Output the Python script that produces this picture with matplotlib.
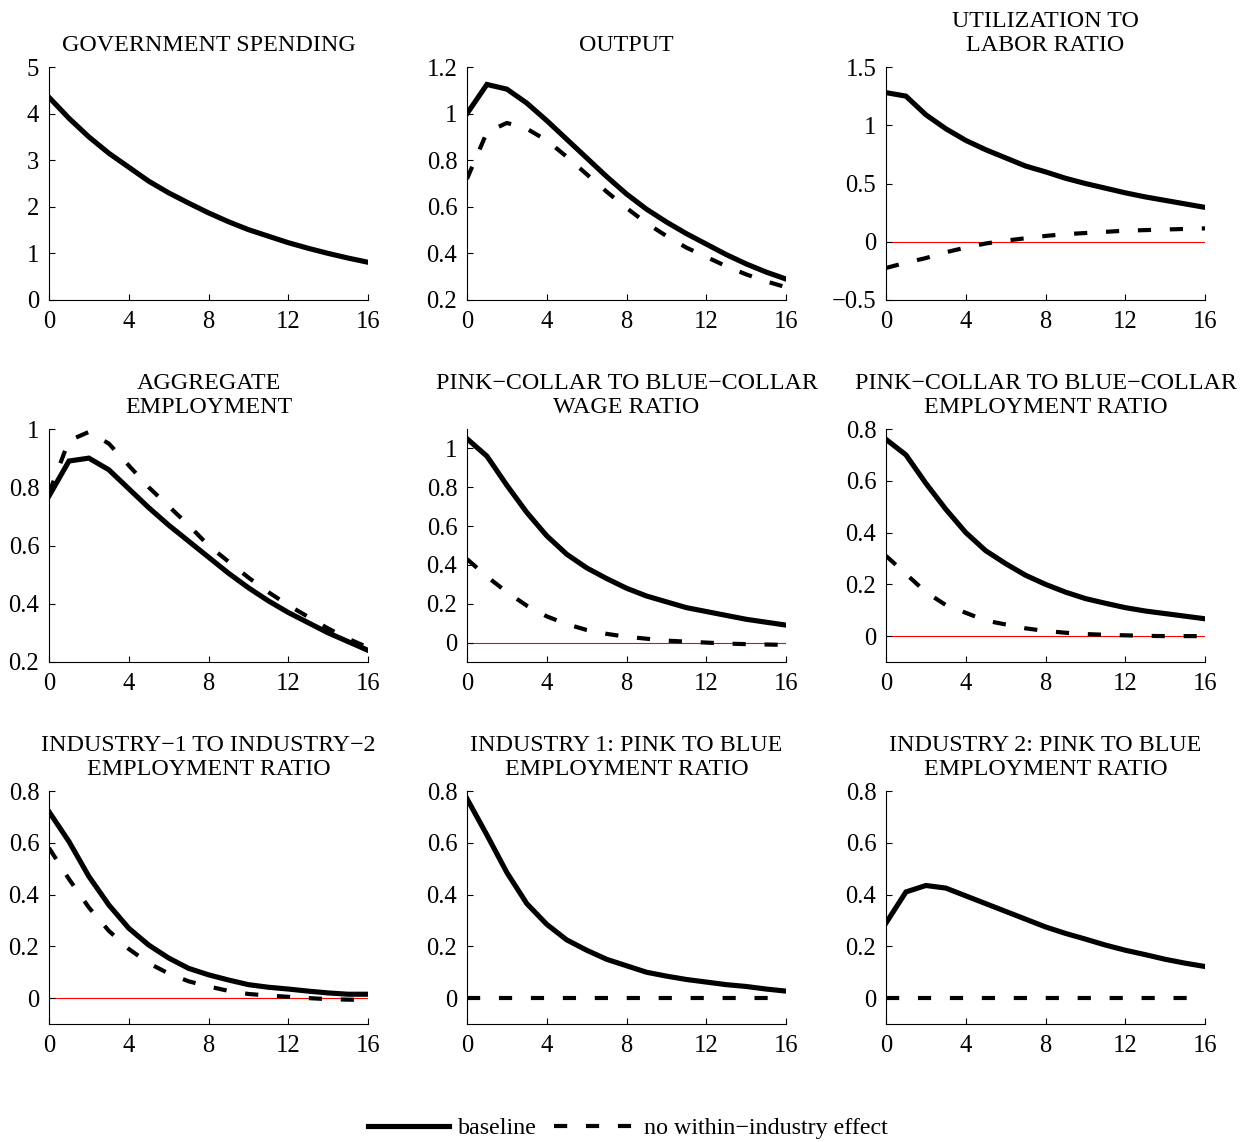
import numpy as np
import matplotlib
matplotlib.use("Agg")
import matplotlib.pyplot as plt
from matplotlib.ticker import FuncFormatter

plt.rcParams['font.family'] = ['Liberation Serif', 'DejaVu Serif']
plt.rcParams['lines.scale_dashes'] = False

quarters = np.arange(17)

titles = [
    "GOVERNMENT SPENDING",
    "OUTPUT",
    "UTILIZATION TO\nLABOR RATIO",
    "AGGREGATE\nEMPLOYMENT",
    "PINK\u2212COLLAR TO BLUE\u2212COLLAR\nWAGE RATIO",
    "PINK\u2212COLLAR TO BLUE\u2212COLLAR\nEMPLOYMENT RATIO",
    "INDUSTRY\u22121 TO INDUSTRY\u22122\nEMPLOYMENT RATIO",
    "INDUSTRY 1: PINK TO BLUE\nEMPLOYMENT RATIO",
    "INDUSTRY 2: PINK TO BLUE\nEMPLOYMENT RATIO",
]

gov_base = [4.35, 3.9, 3.5, 3.15, 2.85, 2.55, 2.3, 2.08, 1.87, 1.68, 1.51, 1.37, 1.23, 1.11, 1.0, 0.9, 0.81]

output_base = [1.0, 1.125, 1.105, 1.045, 0.97, 0.89, 0.81, 0.73, 0.655, 0.59, 0.535, 0.485, 0.44, 0.395, 0.355, 0.32, 0.29]
output_alt = [0.72, 0.92, 0.96, 0.935, 0.885, 0.815, 0.74, 0.665, 0.595, 0.53, 0.475, 0.425, 0.385, 0.345, 0.31, 0.28, 0.255]

util_base = [1.28, 1.25, 1.09, 0.97, 0.87, 0.79, 0.72, 0.65, 0.60, 0.545, 0.50, 0.46, 0.42, 0.385, 0.355, 0.325, 0.295]
util_alt = [-0.225, -0.18, -0.14, -0.09, -0.05, -0.015, 0.01, 0.03, 0.05, 0.065, 0.075, 0.085, 0.095, 0.10, 0.105, 0.11, 0.115]

emp_base = [0.77, 0.89, 0.90, 0.86, 0.795, 0.73, 0.67, 0.615, 0.56, 0.505, 0.455, 0.41, 0.37, 0.335, 0.30, 0.27, 0.24]
emp_alt = [0.78, 0.96, 0.99, 0.95, 0.875, 0.80, 0.735, 0.67, 0.60, 0.545, 0.49, 0.44, 0.395, 0.355, 0.315, 0.28, 0.25]

wage_base = [1.05, 0.96, 0.81, 0.67, 0.55, 0.455, 0.385, 0.33, 0.28, 0.24, 0.21, 0.18, 0.16, 0.14, 0.12, 0.105, 0.09]
wage_alt = [0.43, 0.34, 0.26, 0.19, 0.135, 0.095, 0.065, 0.045, 0.03, 0.02, 0.01, 0.005, 0.0, -0.005, -0.008, -0.01, -0.012]

pb_emp_base = [0.76, 0.70, 0.59, 0.49, 0.40, 0.33, 0.28, 0.235, 0.20, 0.17, 0.145, 0.127, 0.11, 0.097, 0.087, 0.077, 0.067]
pb_emp_alt = [0.31, 0.24, 0.17, 0.12, 0.09, 0.06, 0.045, 0.03, 0.02, 0.013, 0.008, 0.005, 0.003, 0.001, 0.0, 0.0, 0.0]

ind_base = [0.72, 0.605, 0.47, 0.36, 0.27, 0.205, 0.155, 0.115, 0.09, 0.07, 0.052, 0.042, 0.035, 0.027, 0.02, 0.015, 0.015]
ind_alt = [0.58, 0.46, 0.35, 0.26, 0.19, 0.135, 0.095, 0.065, 0.045, 0.028, 0.016, 0.01, 0.005, 0.0, -0.004, -0.006, -0.007]

ind1_base = [0.77, 0.63, 0.485, 0.365, 0.285, 0.225, 0.185, 0.15, 0.125, 0.10, 0.085, 0.072, 0.062, 0.052, 0.045, 0.035, 0.027]
ind1_alt = [0.0] * 17

ind2_base = [0.29, 0.41, 0.435, 0.425, 0.395, 0.365, 0.335, 0.305, 0.275, 0.25, 0.228, 0.205, 0.185, 0.168, 0.15, 0.135, 0.122]
ind2_alt = [0.0] * 17

baselines = [gov_base, output_base, util_base, emp_base, wage_base, pb_emp_base, ind_base, ind1_base, ind2_base]
alternatives = [None, output_alt, util_alt, emp_alt, wage_alt, pb_emp_alt, ind_alt, ind1_alt, ind2_alt]

ylims = [(0, 5), (0.2, 1.2), (-0.5, 1.5), (0.2, 1.0), (-0.1, 1.1), (-0.1, 0.8), (-0.1, 0.8), (-0.1, 0.8), (-0.1, 0.8)]
yticks = [
    [0, 1, 2, 3, 4, 5],
    [0.2, 0.4, 0.6, 0.8, 1.0, 1.2],
    [-0.5, 0, 0.5, 1.0, 1.5],
    [0.2, 0.4, 0.6, 0.8, 1.0],
    [0, 0.2, 0.4, 0.6, 0.8, 1.0],
    [0, 0.2, 0.4, 0.6, 0.8],
    [0, 0.2, 0.4, 0.6, 0.8],
    [0, 0.2, 0.4, 0.6, 0.8],
    [0, 0.2, 0.4, 0.6, 0.8],
]
zero_line = [False, False, True, False, True, True, True, False, False]

fmt = FuncFormatter(lambda v, p: ('%g' % round(v, 3)).replace('-', '\u2212'))

W, H = 1247, 1142
fig = plt.figure(figsize=(W / 100, H / 100), dpi=100)

lefts = [49, 467, 886]
bottoms = [300, 662, 1024]
aw, ah = 319, 233

handles = None
for i in range(9):
    r, c = divmod(i, 3)
    ax = fig.add_axes([lefts[c] / W, 1 - bottoms[r] / H, aw / W, ah / H])
    if zero_line[i]:
        ax.plot(quarters, np.zeros(17), color='red', lw=0.8, zorder=1)
    l1, = ax.plot(quarters, baselines[i], color='black', lw=3.7, zorder=3,
                  solid_joinstyle='miter', label='baseline')
    if alternatives[i] is not None:
        l2, = ax.plot(quarters, alternatives[i], color='black', lw=3.0, zorder=2,
                      dashes=(9.5, 13.5), dash_capstyle='butt', label='no within\u2212industry effect')
        if handles is None:
            handles = [l1, l2]
    ax.set_xlim(0, 16)
    ax.set_ylim(*ylims[i])
    ax.set_xticks([0, 4, 8, 12, 16])
    ax.set_yticks(yticks[i])
    ax.yaxis.set_major_formatter(fmt)
    ax.spines['top'].set_visible(False)
    ax.spines['right'].set_visible(False)
    ax.spines['left'].set_linewidth(0.8)
    ax.spines['bottom'].set_linewidth(0.8)
    ax.tick_params(direction='in', length=4, width=0.8, labelsize=17.7)
    ax.tick_params(axis='x', pad=8)
    ax.tick_params(axis='y', pad=7)
    ax.set_title(titles[i], fontsize=17.3, pad=11.5, linespacing=1.2)

fig.legend(handles, ['baseline', 'no within\u2212industry effect'], loc='center',
           bbox_to_anchor=(628 / W, 1 - 1128 / H), ncol=2, frameon=False,
           fontsize=17.3, handlelength=3.35, handletextpad=0.4, columnspacing=0.7)

fig.savefig('out.png', dpi=100)
